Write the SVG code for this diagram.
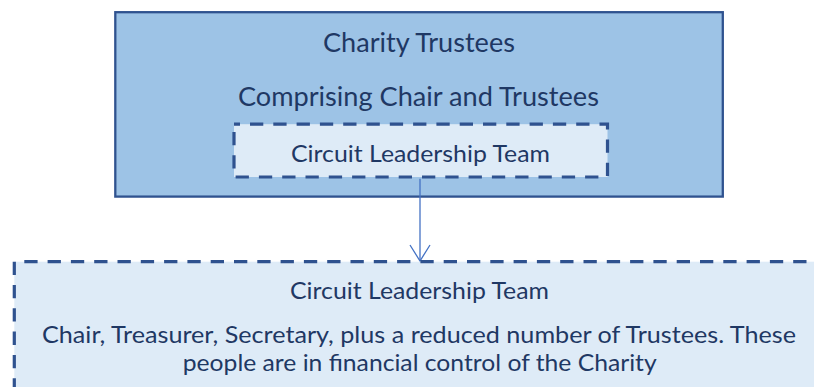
<svg xmlns="http://www.w3.org/2000/svg" width="814" height="387" viewBox="0 0 814 387">
<style>
  .t { font-family: Lato, "Open Sans", "Liberation Sans", sans-serif; fill: #1F3864; text-anchor: middle; }
  .big { font-size: 26.5px; }
  .small { font-size: 23.2px; }
  .dash { stroke: #2F528F; stroke-width: 3.2; stroke-dasharray: 13.3 10; fill: none; }
  .conn { stroke: #4472C4; stroke-width: 1.3; fill: none; }
</style>
<rect width="814" height="387" fill="#FFFFFF"/>
<g id="charity-trustees">
  <rect x="115.3" y="12.2" width="607.5" height="184.4" fill="#9DC3E6" stroke="#2F528F" stroke-width="2.3"/>
  <text class="t big" x="419" y="51.5" textLength="192" lengthAdjust="spacingAndGlyphs">Charity Trustees</text>
  <text class="t big" x="418.4" y="106" textLength="361" lengthAdjust="spacingAndGlyphs">Comprising Chair and Trustees</text>
</g>
<g id="clt-inner">
  <rect x="234" y="124.2" width="373.5" height="52.8" class="dash" style="fill:#DEEBF7" stroke-dashoffset="7.3"/>
  <text class="t small" x="420.5" y="161.7" textLength="259" lengthAdjust="spacingAndGlyphs">Circuit Leadership Team</text>
</g>
<g id="connectors">
  <line class="conn" x1="420" y1="178.7" x2="420" y2="260.5"/>
  <polyline class="conn" points="410,245 420,261 430,245"/>
</g>
<g id="clt-detail">
  <rect x="14.3" y="261.7" width="820" height="200" fill="#DEEBF7"/>
  <path class="dash" d="M14.3 400 V261.7 H830" stroke-dashoffset="14.8"/>
  <text class="t small" x="419.5" y="299" textLength="259" lengthAdjust="spacingAndGlyphs">Circuit Leadership Team</text>
  <text class="t small" x="419" y="342.7" textLength="754" lengthAdjust="spacingAndGlyphs">Chair, Treasurer, Secretary, plus a reduced number of Trustees. These</text>
  <text class="t small" x="419.7" y="371" textLength="474" lengthAdjust="spacingAndGlyphs">people are in financial control of the Charity</text>
</g>
</svg>
